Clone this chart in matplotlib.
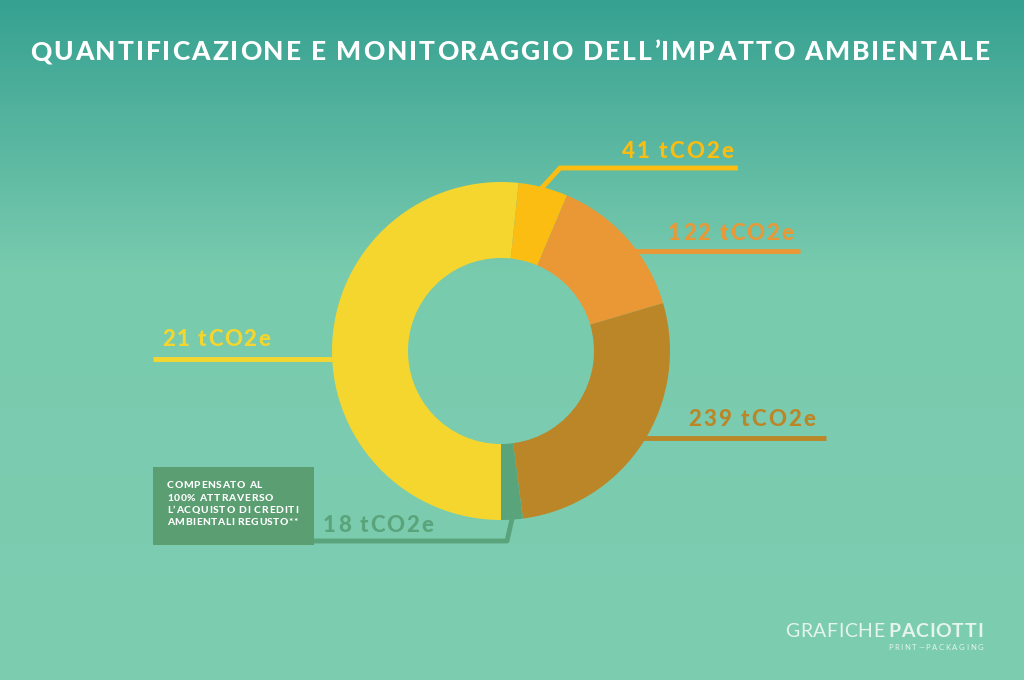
import matplotlib.pyplot as plt
import numpy as np
from matplotlib.colors import LinearSegmentedColormap
from matplotlib.font_manager import FontProperties
from matplotlib.textpath import TextToPath

# wedge sizes as read from the ring (share of the circle), order: clockwise from the bottom
slice_names = ["giallo", "oro", "arancio", "marrone", "verde"]
slice_sizes = [449, 41, 122, 239, 18]
slice_colors = ["#f4d62f", "#fbbd12", "#ea9835", "#bb8627", "#5aa47c"]

# label texts shown next to the ring
label_texts = ["21 tCO2e", "41 tCO2e", "122 tCO2e", "239 tCO2e", "18 tCO2e"]

title = "QUANTIFICAZIONE E MONITORAGGIO DELL\u2019IMPATTO AMBIENTALE"
box_lines = ["COMPENSATO AL", "100% ATTRAVERSO", "L\u2019ACQUISTO DI CREDITI", "AMBIENTALI REGUSTO**"]

W, H = 1024, 680
fig = plt.figure(figsize=(W / 100, H / 100), dpi=100)
ax = fig.add_axes([0, 0, 1, 1])

ttp = TextToPath()


def spaced(x0, x1, y, s, size, color, weight="bold", zorder=5):
    # testo con spaziatura lettere: distribuisce i caratteri fra x0 e x1
    fp = FontProperties(family="Lato", weight=weight, size=size)
    widths = []
    for ch in s:
        w, h, d = ttp.get_text_width_height_descent(ch, fp, ismath=False)
        widths.append(w * 100 / 72)
    track = (x1 - x0 - sum(widths)) / max(len(s) - 1, 1)
    x = x0
    for ch, w in zip(s, widths):
        ax.text(x, y, ch, fontproperties=fp, color=color, ha="left", va="center_baseline", zorder=zorder)
        x += w + track


# sfondo sfumato
cmap = LinearSegmentedColormap.from_list("bg", [(0, "#36a191"), (0.2, "#58b6a0"), (0.4, "#79cbae"), (1, "#7dcdb1")])
grad = np.linspace(0, 1, 256).reshape(-1, 1)
ax.imshow(grad, cmap=cmap, extent=[0, W, 0, H], origin="upper", aspect="auto", zorder=0)

cx, cy, r = 501, 329, 169
ax.pie(slice_sizes, colors=slice_colors, startangle=270, counterclock=False,
       center=(cx, cy), radius=r, wedgeprops=dict(width=76, linewidth=0, zorder=2),
       frame=True)
ax.set_xlim(0, W)
ax.set_ylim(0, H)
ax.set_aspect("auto")
ax.axis("off")

lw = 3.5
fs = 16
# 21
c = slice_colors[0]
ax.plot([153, 400], [321, 321], color=c, lw=lw, solid_capstyle="butt", zorder=1)
spaced(162, 270, 342, label_texts[0], fs, c, weight="black")
# 41
c = slice_colors[1]
ax.plot([540, 560, 738], [490, 512, 512], color=c, lw=lw, solid_capstyle="butt", zorder=1)
spaced(622, 733, 531, label_texts[1], fs, c, weight="black")
# 122
c = slice_colors[2]
ax.plot([600, 800], [429, 429], color=c, lw=lw, solid_capstyle="butt", zorder=1)
spaced(668, 793, 448, label_texts[2], fs, c, weight="black")
# 239
c = slice_colors[3]
ax.plot([600, 826], [242, 242], color=c, lw=lw, solid_capstyle="butt", zorder=1)
spaced(688, 815, 262, label_texts[3], fs, c, weight="black")
# 18
c = slice_colors[4]
ax.plot([514, 507, 300], [170, 139, 139], color=c, lw=lw, solid_capstyle="butt", zorder=1)
spaced(323, 433, 157, label_texts[4], fs, c, weight="black")

# box verde
ax.add_patch(plt.Rectangle((153, 135), 161, 78, facecolor="#5a9e72", edgecolor="none", zorder=3))
box_ends = [262, 273, 298, 298]
for i, (line, xe) in enumerate(zip(box_lines, box_ends)):
    spaced(167, xe, 195 - i * 12.3, line, 7.4, "white", weight="black", zorder=4)

# titolo
spaced(30, 990, 630, title, 19, "white", weight="black")

# logo
spaced(785, 884, 50, "GRAFICHE", 14, "#e6f4ee", weight="normal")
spaced(888, 983, 50, "PACIOTTI", 14, "#e6f4ee", weight="bold")
spaced(888, 983, 33, "PRINT\u2014PACKAGING", 5.5, "#e6f4ee", weight="normal")

fig.savefig("out.png", dpi=100)
